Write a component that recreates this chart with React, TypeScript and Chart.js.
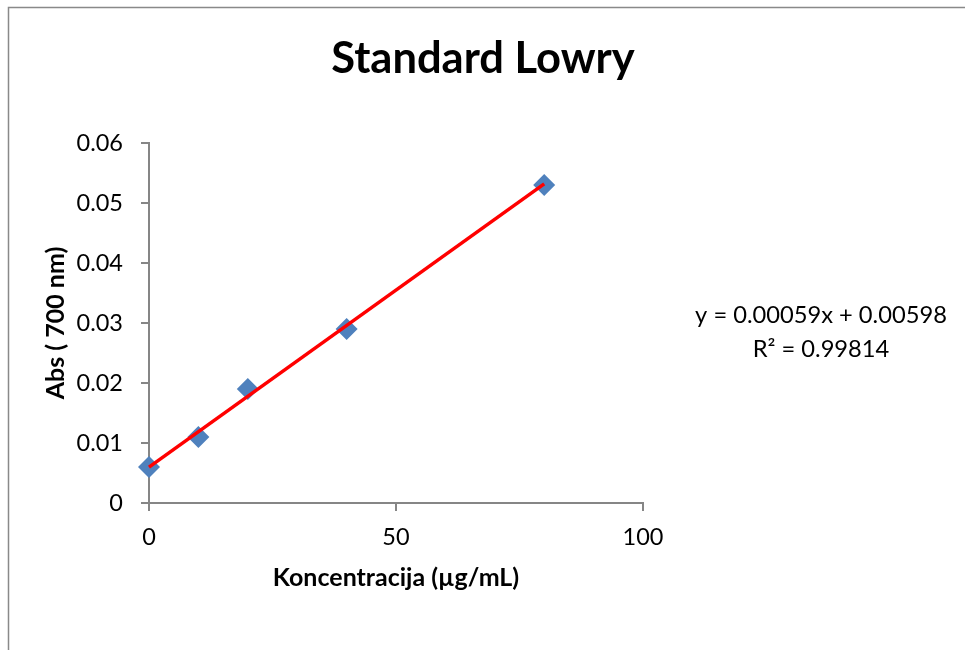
import React, { useEffect, useRef } from "react";
import { Chart, registerables } from "chart.js";

Chart.register(...registerables);

const chartTitle = "Standard Lowry";
const xAxisTitle = "Koncentracija (µg/mL)";
const yAxisTitle = "Abs ( 700 nm)";
const concentrations = [0, 10, 20, 40, 80];
const absorbances = [0.006, 0.011, 0.019, 0.029, 0.053];
const trendX = [0, 80];
const trendY = [0.00598, 0.05318];
const equationLines = ["y = 0.00059x + 0.00598", "R² = 0.99814"];

const FONT = "Lato, 'Open Sans', sans-serif";

const overlayPlugin = {
  id: "overlay",
  beforeDraw(chart: any) {
    const ctx = chart.ctx;
    ctx.save();
    ctx.fillStyle = "#ffffff";
    ctx.fillRect(0, 0, chart.width, chart.height);
    ctx.strokeStyle = "#898989";
    ctx.lineWidth = 1.5;
    ctx.strokeRect(8.5, 7.5, 3000, 3000);
    ctx.restore();
  },
  afterDraw(chart: any) {
    const ctx = chart.ctx;
    ctx.save();
    ctx.fillStyle = "#000000";
    ctx.textAlign = "center";
    ctx.textBaseline = "alphabetic";
    ctx.font = `bold 43.5px ${FONT}`;
    ctx.fillText(chartTitle, 483, 73);
    ctx.font = `23.7px ${FONT}`;
    ctx.fillText(equationLines[0], 821, 323);
    ctx.fillText(equationLines[1], 821, 357);
    ctx.restore();
  },
};

export default function App() {
  const ref = useRef<HTMLCanvasElement | null>(null);
  useEffect(() => {
    document.body.style.margin = "0";
    const canvas = ref.current!;
    const chart = new Chart(canvas, {
      type: "scatter",
      data: {
        datasets: [
          {
            type: "line",
            label: "Trend",
            data: trendX.map((x, i) => ({ x, y: trendY[i] })),
            borderColor: "#ff0000",
            borderWidth: 3.5,
            pointRadius: 0,
            fill: false,
            clip: false,
          } as any,
          {
            label: "Abs",
            data: concentrations.map((x, i) => ({ x, y: absorbances[i] })),
            pointStyle: "rectRot",
            pointRadius: 11,
            pointBackgroundColor: "#4f81bd",
            pointBorderColor: "#4f81bd",
            pointBorderWidth: 0,
            clip: false,
          } as any,
        ],
      },
      options: {
        animation: false,
        responsive: false,
        devicePixelRatio: 1,
        layout: { padding: { left: 0, right: 322, top: 143, bottom: 57 } },
        plugins: {
          legend: { display: false },
          title: { display: false },
          tooltip: { enabled: false },
        },
        scales: {
          x: {
            type: "linear",
            min: 0,
            max: 100,
            ticks: {
              stepSize: 50,
              color: "#000",
              font: { family: FONT, size: 23.5 },
              padding: 12,
              maxRotation: 0,
            },
            grid: { drawOnChartArea: false, drawTicks: true, tickLength: 8, color: "#868686", lineWidth: 2 },
            border: { color: "#868686", width: 2 },
            title: {
              display: true,
              text: xAxisTitle,
              color: "#000",
              font: { family: FONT, size: 25, weight: "bold" },
              padding: 0,
            },
            afterFit: (scale: any) => {
              scale.height = 90;
            },
          },
          y: {
            type: "linear",
            min: 0,
            max: 0.06,
            ticks: {
              stepSize: 0.01,
              color: "#000",
              font: { family: FONT, size: 23.5 },
              padding: 18,
              callback: (v: any) => String(Number(Number(v).toFixed(2))),
            },
            grid: { drawOnChartArea: false, drawTicks: true, tickLength: 8, color: "#868686", lineWidth: 2 },
            border: { color: "#868686", width: 2 },
            title: {
              display: true,
              text: yAxisTitle,
              color: "#000",
              font: { family: FONT, size: 25, weight: "bold" },
              padding: { top: 41, bottom: 0 },
            },
            afterFit: (scale: any) => {
              scale.width = 149;
            },
          },
        },
      } as any,
      plugins: [overlayPlugin],
    });
    return () => chart.destroy();
  }, []);
  return (
    <div style={{ width: 965, height: 650 }}>
      <canvas ref={ref} width={965} height={650} style={{ display: "block", width: 965, height: 650 }} />
    </div>
  );
}
